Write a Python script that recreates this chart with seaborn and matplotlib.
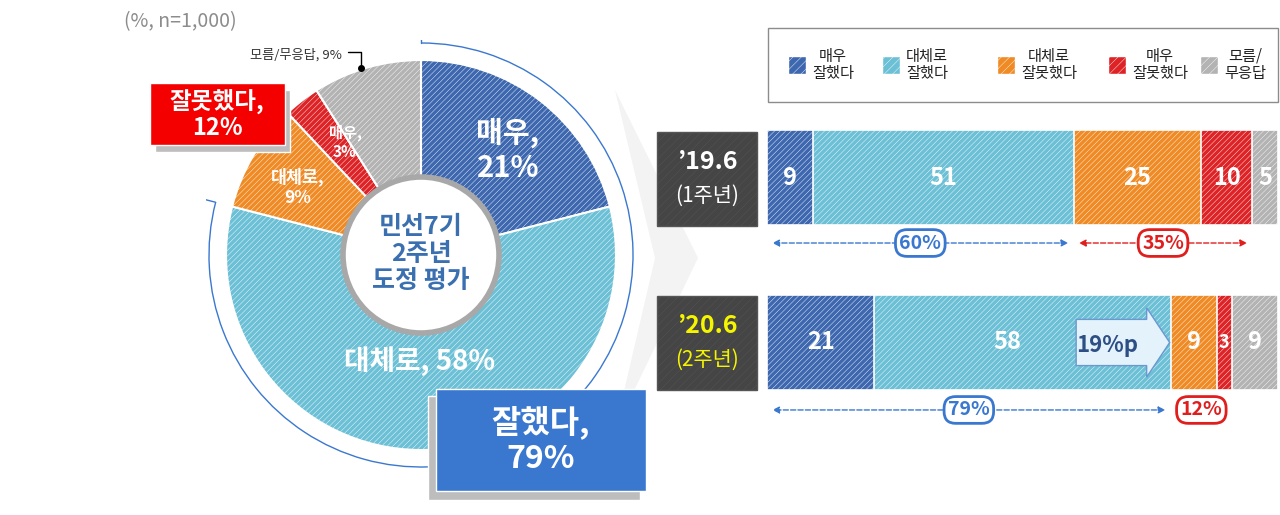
import matplotlib
matplotlib.use('Agg')
import matplotlib.pyplot as plt
import matplotlib.patches as mpatches
import seaborn as sns
import numpy as np

sns.set_theme(style='white')
plt.rcParams['font.family'] = ['Noto Sans CJK KR', 'DejaVu Sans']
plt.rcParams['hatch.linewidth'] = 0.3
plt.rcParams['hatch.color'] = (1, 1, 1, 0.2)

# 데이터
categories = ['매우 잘했다', '대체로 잘했다', '대체로 잘못했다', '매우 잘못했다', '모름/무응답']
legend_labels = ['매우\n잘했다', '대체로\n잘했다', '대체로\n잘못했다', '매우\n잘못했다', '모름/\n무응답']
colors = ['#3d67ae', '#6cc0d6', '#f08a24', '#de2326', '#b3b3b3']
pie_values = [21, 58, 9, 3, 9]
years = ["'19.6", "'20.6"]
v2019 = [9, 51, 25, 10, 5]
v2020 = [21, 58, 9, 3, 9]
good_sum = [60, 79]
bad_sum = [35, 12]

W, H = 1280, 515
fig = plt.figure(figsize=(W / 100, H / 100), dpi=100)
fig.patch.set_facecolor('white')

# ---- 도넛 ----
cx, cy, R = 421, 255, 195
half = 215
pax = fig.add_axes([(cx - half) / W, 1 - (cy + half) / H, 2 * half / W, 2 * half / H])
wedges, _ = pax.pie(pie_values, colors=colors, startangle=90, counterclock=False,
                    radius=R / half, wedgeprops=dict(width=(R - 72) / half, edgecolor='white',
                                                     linewidth=1.5, hatch='//////'))
pax.add_patch(mpatches.Circle((0, 0), 78 / half, facecolor='white', edgecolor='#a8a8a8', lw=4, zorder=5))
# 79% 호
ar = 212 / half
end = 90 - 360 * good_sum[1] / 100
pax.add_patch(mpatches.Arc((0, 0), 2 * ar, 2 * ar, theta1=end, theta2=450, color='#3a78d0', lw=1))
for a in [90, end]:
    t = np.deg2rad(a)
    pax.plot([ar * np.cos(t), (ar + 0.1) * np.cos(t)], [ar * np.sin(t), (ar + 0.1) * np.sin(t)], color='#3a78d0', lw=1)
pax.set_xlim(-1, 1)
pax.set_ylim(-1, 1)
pax.axis('off')

# ---- 막대 ----
bax = fig.add_axes([767 / W, 1 - 390 / H, 511 / W, 260 / H])
data = np.array([v2019, v2020])
cum = data.cumsum(axis=1)
for i in range(len(categories) - 1, -1, -1):
    sns.barplot(x=cum[:, i], y=years, orient='h', color=colors[i], width=0.576,
                saturation=1, ax=bax, edgecolor='white', linewidth=1.2)
for p in bax.patches:
    p.set_hatch('//////')
for r in range(2):
    left = 0
    for i, v in enumerate(data[r]):
        fs = 17 if v > 4 else 13
        x = left + v / 2
        if r == 1 and i == 1:
            x = left + v * 0.45
        bax.text(x, r, str(v), ha='center', va='center', color='white', fontsize=fs, fontweight='bold', zorder=10)
        left += v
bax.set_xlim(0, 100)
bax.set_ylim(1.288, -0.288)
bax.axis('off')

# 19%p 화살표
bax.add_patch(mpatches.FancyArrow(60.5, 1, 18.3, 0, width=0.28, head_width=0.42, head_length=4.5,
                                  length_includes_head=True, facecolor='#e4f2fb', edgecolor='#6a98d0',
                                  lw=1, zorder=9))
bax.text(66.5, 1.02, '19%p', ha='center', va='center', fontsize=16, fontweight='bold', color='#2d4f86', zorder=11)

# 합계 화살표
yy = [0.397, 1.409]
for r in range(2):
    g = good_sum[r]
    b = bad_sum[r]
    for x0, x1, txt, c in [(0, g, f'{g}%', '#3a78d0'), (g, g + b, f'{b}%', '#e01e1e')]:
        bax.annotate('', xy=(x0 + 0.5, yy[r]), xytext=(x1 - 0.5, yy[r]), annotation_clip=False,
                     arrowprops=dict(arrowstyle='<|-|>', color=c, ls='--', lw=1, mutation_scale=10))
        xm = (x0 + x1) / 2
        if r == 1 and x0 > 0:
            xm = x0 + 6
        bax.text(xm, yy[r], txt, ha='center', va='center', fontsize=14, fontweight='bold', color=c,
                 clip_on=False, bbox=dict(boxstyle='round,pad=0.2,rounding_size=0.6', fc='white', ec=c, lw=2))

# ---- 겹침 레이어 (픽셀 좌표) ----
ov = fig.add_axes([0, 0, 1, 1], facecolor='none')
ov.set_xlim(0, W)
ov.set_ylim(H, 0)
ov.axis('off')

# 화살 모양 (배경)
ov.add_patch(mpatches.Polygon([[615, 90], [698, 258], [615, 430], [655, 258]], closed=True,
                              facecolor='#f3f3f3', edgecolor='none', zorder=0))

ov.text(180, 22, '(%, n=1,000)', ha='center', va='center', fontsize=14, color='#8c8c8c')
ov.text(296, 55, '모름/무응답, 9%', ha='center', va='center', fontsize=9.5, color='#333333')
ov.plot([348, 361, 361], [52, 52, 68], color='black', lw=1)
ov.plot([361], [68], 'o', color='black', ms=4)

ov.text(508, 150, '매우,\n21%', ha='center', va='center', fontsize=21, fontweight='bold', color='white', linespacing=1.2)
ov.text(420, 361, '대체로, 58%', ha='center', va='center', fontsize=20, fontweight='bold', color='white')
ov.text(298, 187, '대체로,\n9%', ha='center', va='center', fontsize=12.5, fontweight='bold', color='white', linespacing=1.2)
ov.text(345, 142, '매우,\n3%', ha='center', va='center', fontsize=11, fontweight='bold', color='white', linespacing=1.2)
ov.text(421, 254, '민선7기\n2주년\n도정 평가', ha='center', va='center', fontsize=18, fontweight='bold',
        color='#3a6fb0', linespacing=1.15)

# 잘못했다 상자
ov.add_patch(mpatches.Rectangle((155, 90), 135, 62, facecolor='#bdbdbd', zorder=3))
ov.add_patch(mpatches.Rectangle((150, 83), 135, 62, facecolor='#f40000', edgecolor='white', lw=1, zorder=4))
ov.text(217, 114, '잘못했다,\n12%', ha='center', va='center', fontsize=17, fontweight='bold', color='white', zorder=5, linespacing=1.1)
# 잘했다 상자
ov.add_patch(mpatches.Rectangle((428, 396), 212, 104, facecolor='#bdbdbd', zorder=3))
ov.add_patch(mpatches.Rectangle((436, 389), 210, 102, facecolor='#3a78d0', edgecolor='white', lw=1, zorder=4))
ov.text(541, 440, '잘했다,\n79%', ha='center', va='center', fontsize=23, fontweight='bold', color='white', zorder=5, linespacing=1.15)

# 연도 상자
for (y0, t1, t2, c) in [(132, "’19.6", '(1주년)', 'white'), (296, "’20.6", '(2주년)', '#f5f500')]:
    ov.add_patch(mpatches.Rectangle((657, y0), 100, 94, facecolor='#454545', edgecolor='#555555', hatch='////', zorder=3))
    ov.text(707, y0 + 30, t1, ha='center', va='center', fontsize=18, fontweight='bold', color=c, zorder=5)
    ov.text(707, y0 + 64, t2, ha='center', va='center', fontsize=15, color=c, zorder=5)

# 범례
ov.add_patch(mpatches.Rectangle((768, 28), 510, 74, facecolor='white', edgecolor='#8c8c8c', lw=1))
sq_x = [788, 882, 997, 1108, 1200]
for sx, c, lab in zip(sq_x, colors, legend_labels):
    ov.add_patch(mpatches.Rectangle((sx, 56), 18, 18, facecolor=c, edgecolor='white', hatch='////'))
    ov.text(sx + 24, 65, lab, ha='left', va='center', fontsize=11, color='#222222', linespacing=1.05, ma='center')

fig.savefig('out.png', dpi=100, facecolor='white')
